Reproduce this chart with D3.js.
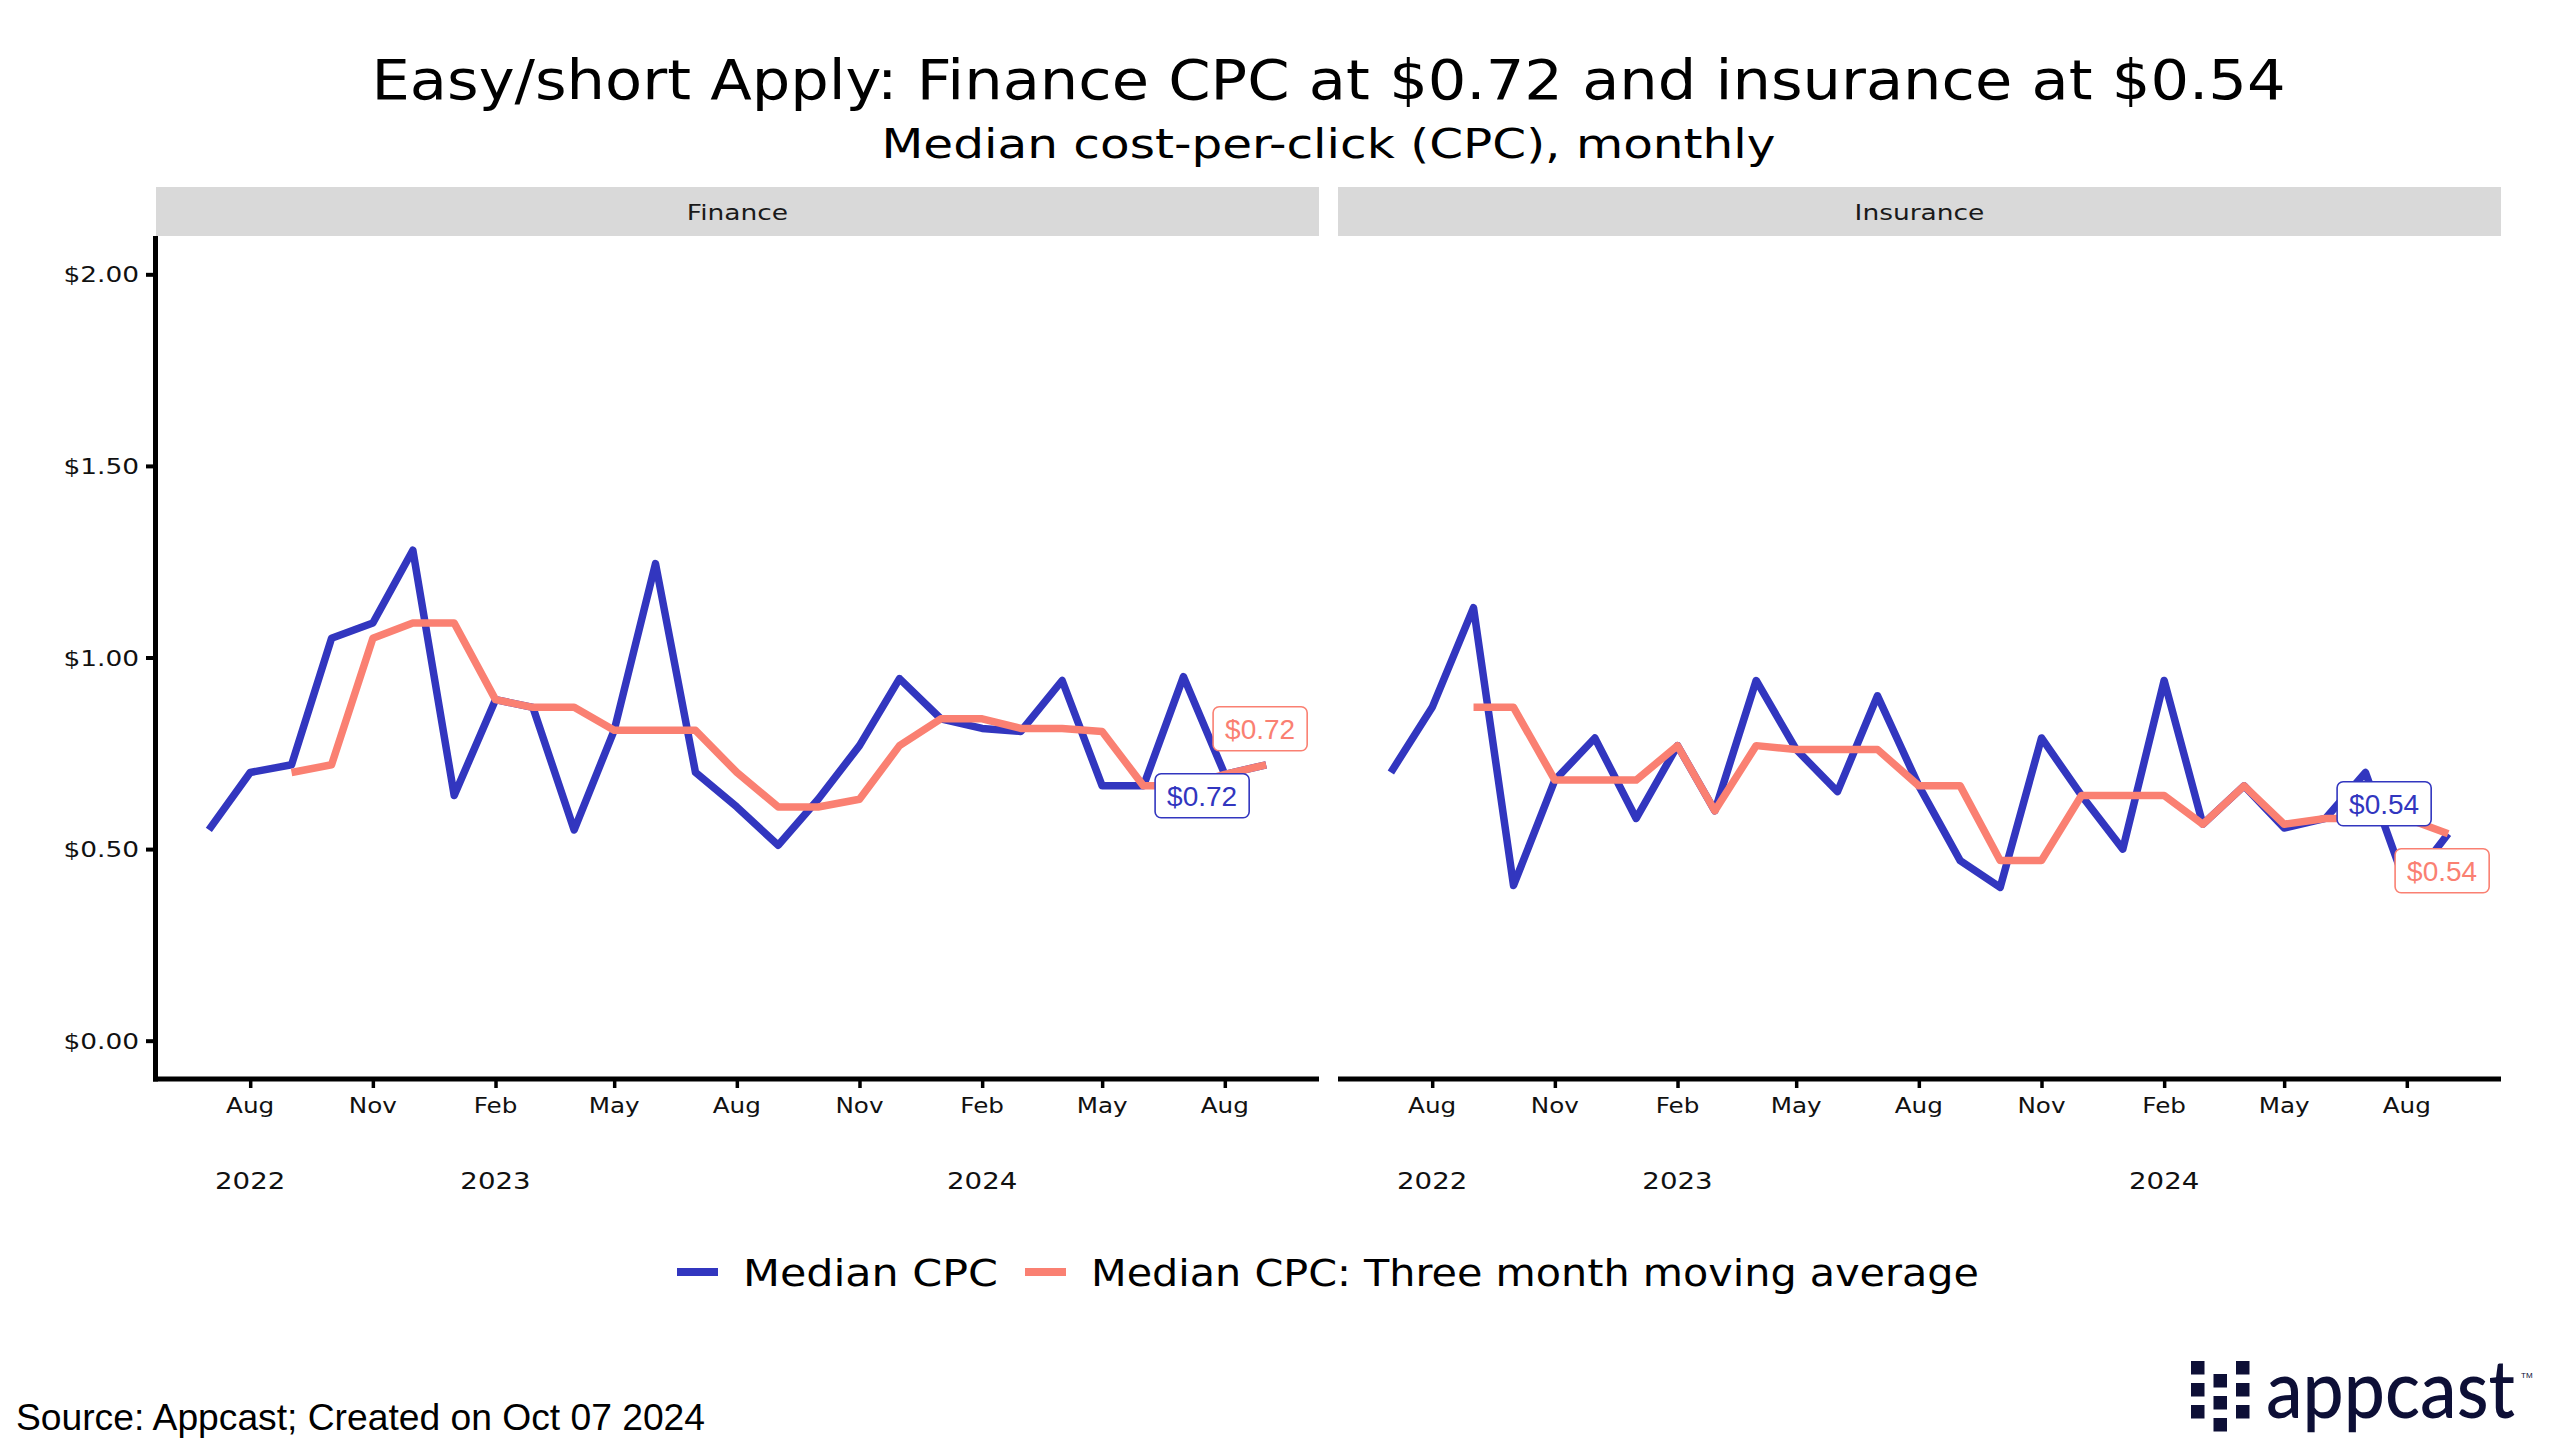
<!DOCTYPE html>
<html><head><meta charset="utf-8">
<script src="https://cdn.jsdelivr.net/npm/d3@7"></script>
<style>body{margin:0;background:#fff}svg{display:block}</style>
</head><body>
<svg id="chart" width="2560" height="1455"></svg>
<script>
// ---------------- data ----------------
const months = ["2022-07","2022-08","2022-09","2022-10","2022-11","2022-12",
  "2023-01","2023-02","2023-03","2023-04","2023-05","2023-06","2023-07","2023-08","2023-09","2023-10","2023-11","2023-12",
  "2024-01","2024-02","2024-03","2024-04","2024-05","2024-06","2024-07","2024-08","2024-09"];
const panels = ["Finance", "Insurance"];
const financeCPC = [0.55,0.70,0.72,1.05,1.09,1.28,
  0.64,0.89,0.87,0.55,0.81,1.245,0.70,0.61,0.51,0.63,0.77,0.945,
  0.84,0.815,0.807,0.94,0.665,0.665,0.95,0.695,0.72];
const financeMA = [null,null,0.70,0.72,1.05,1.09,
  1.09,0.89,0.87,0.87,0.81,0.81,0.81,0.70,0.61,0.61,0.63,0.77,
  0.84,0.84,0.815,0.815,0.807,0.665,0.665,0.695,0.72];
const insuranceCPC = [0.70,0.87,1.13,0.405,0.68,0.79,
  0.58,0.77,0.60,0.94,0.76,0.65,0.90,0.665,0.47,0.40,0.79,0.64,
  0.50,0.94,0.565,0.665,0.555,0.58,0.70,0.40,0.54];
const insuranceMA = [null,null,0.87,0.87,0.68,0.68,
  0.68,0.77,0.60,0.77,0.76,0.76,0.76,0.665,0.665,0.47,0.47,0.64,
  0.64,0.64,0.565,0.665,0.565,0.58,0.58,0.58,0.54];
const seriesNames = ["Median CPC", "Median CPC: Three month moving average"];
const seriesColors = ["#3236bf", "#fa8072"];
const yTicks = [0, 0.5, 1, 1.5, 2];
const xTickMonths = ["2022-08","2022-11","2023-02","2023-05","2023-08","2023-11","2024-02","2024-05","2024-08"];
const xTickLabels = ["Aug","Nov","Feb","May","Aug","Nov","Feb","May","Aug"];
const xYearLabels = ["2022","","2023","","","","2024","",""];
const titleText = "Easy/short Apply: Finance CPC at $0.72 and insurance at $0.54";
const subtitleText = "Median cost-per-click (CPC), monthly";
const captionText = "Source: Appcast; Created on Oct 07 2024";

const panelData = [
  {name: panels[0], series: [financeCPC, financeMA]},
  {name: panels[1], series: [insuranceCPC, insuranceMA]}
];
// label nudges (px) for [median, moving average] end labels, per panel
const labelNudge = [[[-64, 31], [-6, -36]], [[-64, -30], [-6, 37]]];

// ---------------- layout ----------------
const W = 2560, H = 1455;
const panelRanges = [[156, 1319], [1338, 2501]];
const plotTop = 236, plotBottom = 1079;
const stripTop = 187;
const wideFont = "'DejaVu Sans', sans-serif";
const plainFont = "'Liberation Sans', Arial, sans-serif";

const svg = d3.select("#chart");
svg.append("rect").attr("width", W).attr("height", H).attr("fill", "#fff");

const parse = d3.utcParse("%Y-%m");
const dates = months.map(parse);
const t0 = dates[0], t1 = dates[dates.length - 1];
const pad = (t1 - t0) * 0.05;
const y = d3.scaleLinear().domain([-0.1, 2.1]).range([plotBottom, plotTop]);

function stretch(sel, f) {
  sel.each(function () {
    const w = this.getComputedTextLength();
    this.setAttribute("textLength", w * f);
    this.setAttribute("lengthAdjust", "spacingAndGlyphs");
  });
}
function fitTo(sel, w) {
  sel.attr("textLength", w).attr("lengthAdjust", "spacingAndGlyphs");
}

// title / subtitle
const cx = (panelRanges[0][0] + panelRanges[1][1]) / 2;
fitTo(svg.append("text").attr("x", cx).attr("y", 99).attr("text-anchor", "middle")
  .attr("font-family", wideFont).attr("font-size", 55).attr("fill", "#000").text(titleText), 1914);
fitTo(svg.append("text").attr("x", cx).attr("y", 158).attr("text-anchor", "middle")
  .attr("font-family", wideFont).attr("font-size", 41).attr("fill", "#000").text(subtitleText), 894);

panelData.forEach((p, pi) => {
  const [x0, x1] = panelRanges[pi];
  const x = d3.scaleUtc().domain([new Date(+t0 - pad), new Date(+t1 + pad)]).range([x0, x1]);
  const g = svg.append("g");

  // strip
  g.append("rect").attr("x", x0).attr("y", stripTop).attr("width", x1 - x0).attr("height", plotTop - stripTop)
    .attr("fill", "#d9d9d9");
  stretch(g.append("text").attr("x", (x0 + x1) / 2).attr("y", (stripTop + plotTop) / 2 + 8)
    .attr("text-anchor", "middle").attr("font-family", wideFont).attr("font-size", 21)
    .attr("fill", "#1a1a1a").text(p.name), 1.26);

  // x axis
  const xAxis = d3.axisBottom(x).tickValues(xTickMonths.map(parse)).tickSize(7).tickFormat("");
  const xa = g.append("g").attr("transform", `translate(0,${plotBottom + 2})`).call(xAxis);
  xa.select(".domain").remove();
  xa.selectAll(".tick line").attr("stroke", "#000").attr("stroke-width", 3.5);
  g.append("line").attr("x1", pi === 0 ? x0 - 3 : x0).attr("x2", x1)
    .attr("y1", plotBottom).attr("y2", plotBottom).attr("stroke", "#000").attr("stroke-width", 5);
  xTickMonths.forEach((m, i) => {
    const xp = x(parse(m));
    stretch(g.append("text").attr("x", xp).attr("y", 1113).attr("text-anchor", "middle")
      .attr("font-family", wideFont).attr("font-size", 22).attr("fill", "#111").text(xTickLabels[i]), 1.12);
    if (xYearLabels[i]) {
      stretch(g.append("text").attr("x", xp).attr("y", 1189).attr("text-anchor", "middle")
        .attr("font-family", wideFont).attr("font-size", 23).attr("fill", "#111").text(xYearLabels[i]), 1.2);
    }
  });

  // y axis (left panel only)
  if (pi === 0) {
    const yAxis = d3.axisLeft(y).tickValues(yTicks).tickSize(9).tickFormat("");
    const ya = g.append("g").attr("transform", `translate(${x0 - 1},0)`).call(yAxis);
    ya.select(".domain").remove();
    ya.selectAll(".tick line").attr("stroke", "#000").attr("stroke-width", 4);
    g.append("line").attr("x1", x0 - 0.5).attr("x2", x0 - 0.5).attr("y1", plotTop).attr("y2", plotBottom + 2.5)
      .attr("stroke", "#000").attr("stroke-width", 5);
    yTicks.forEach(v => {
      stretch(g.append("text").attr("x", 139).attr("y", y(v) + 8).attr("text-anchor", "end")
        .attr("font-family", wideFont).attr("font-size", 22).attr("fill", "#111")
        .text("$" + d3.format(".2f")(v)), 1.2);
    });
  }

  // lines
  const line = d3.line().defined(d => d.v != null).x(d => x(d.t)).y(d => y(d.v));
  p.series.forEach((vals, si) => {
    const data = vals.map((v, i) => ({t: dates[i], v}));
    g.append("path").datum(data).attr("d", line).attr("fill", "none")
      .attr("stroke", seriesColors[si]).attr("stroke-width", 7.5)
      .attr("stroke-linejoin", "round").attr("stroke-linecap", "butt");
  });

  // end labels
  p.series.forEach((vals, si) => {
    const last = vals.length - 1;
    const px = x(dates[last]) + labelNudge[pi][si][0];
    const py = y(vals[last]) + labelNudge[pi][si][1];
    const lg = g.append("g");
    const rect = lg.append("rect");
    const txt = lg.append("text").attr("x", px).attr("y", py + 10).attr("text-anchor", "middle")
      .attr("font-family", plainFont).attr("font-size", 28).attr("fill", seriesColors[si])
      .text("$" + d3.format(".2f")(vals[last]));
    const w = txt.node().getComputedTextLength() + 24;
    rect.attr("x", px - w / 2).attr("y", py - 22).attr("width", w).attr("height", 44)
      .attr("rx", 6).attr("fill", "#fff").attr("stroke", seriesColors[si]).attr("stroke-width", 1.6);
  });
});

// legend
const legY = 1272;
const legItems = [{kx: 677, tx: 743, w: 255}, {kx: 1025, tx: 1091, w: 888}];
legItems.forEach((li, i) => {
  svg.append("rect").attr("x", li.kx).attr("y", legY - 4).attr("width", 41).attr("height", 8)
    .attr("fill", seriesColors[i]);
  fitTo(svg.append("text").attr("x", li.tx).attr("y", legY + 14).attr("font-family", wideFont)
    .attr("font-size", 38).attr("fill", "#000").text(seriesNames[i]), li.w);
});

// caption
fitTo(svg.append("text").attr("x", 16).attr("y", 1430).attr("font-family", plainFont)
  .attr("font-size", 36).attr("fill", "#000").text(captionText), 689);

// appcast logo
const navy = "#0d0f36";
const logo = svg.append("g");
const sq = 13.5;
[[2191, [1361, 1383, 1405]], [2213.5, [1374, 1396, 1418]], [2236, [1361, 1383, 1405]]].forEach(([lx, ys]) => {
  ys.forEach(ly => logo.append("rect").attr("x", lx).attr("y", ly).attr("width", sq).attr("height", sq).attr("fill", navy));
});
const word = logo.append("g");
const wordText = word.append("text").attr("x", 0).attr("y", 0).attr("font-family", "Lato, sans-serif")
  .attr("font-weight", 500).attr("font-size", 82).attr("fill", navy).text("appcast");
const natural = wordText.node().getComputedTextLength();
word.attr("transform", `translate(2266,1418) scale(${249 / natural},1)`);
logo.append("text").attr("x", 2521).attr("y", 1378).attr("font-family", plainFont)
  .attr("font-size", 8).attr("fill", navy).text("TM");
</script>
</body></html>
